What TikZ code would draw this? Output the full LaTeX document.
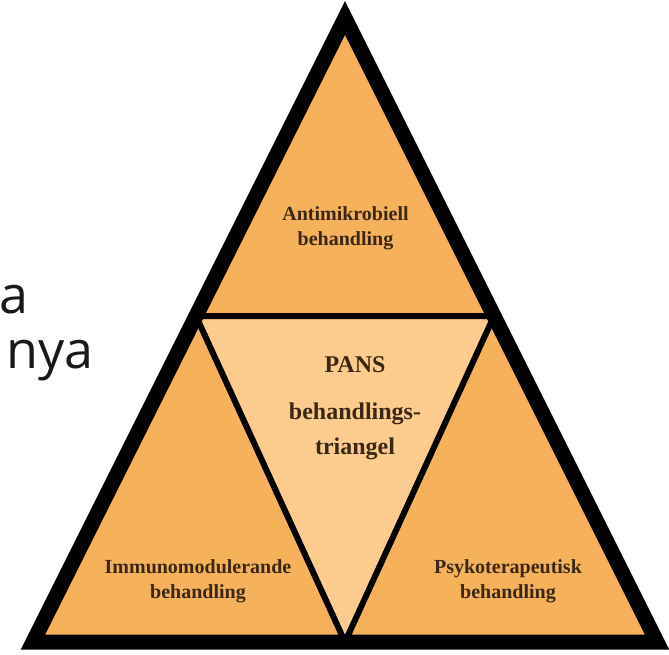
\documentclass[tikz,border=0pt]{standalone}
\usepackage{fontspec}
\setmainfont{Liberation Serif}
\newfontfamily\fragfont{Open Sans}
\usepackage{tikz}
\definecolor{pansorange}{RGB}{246,178,90}
\definecolor{panslight}{RGB}{252,203,142}
\definecolor{pansink}{RGB}{58,40,20}

\begin{document}
\begin{tikzpicture}[x=1pt, y=-1pt,
		field text/.style={font=\bfseries\fontsize{20}{25}\selectfont, text=pansink, align=center, inner sep=0pt},
		core text/.style={font=\bfseries\fontsize{24}{35}\selectfont, text=pansink, align=center, inner sep=0pt},
		frag text/.style={font=\fragfont\fontsize{52}{60}\selectfont, text=black!90, inner sep=0pt, anchor=base west}]
		\useasboundingbox (0,0) rectangle (669,654);
		% corners of the big triangle and of the inner one
		\coordinate (apex) at (345,18);
		\coordinate (baseL) at (33,642);
		\coordinate (baseR) at (657,642);
		\coordinate (midL) at (196,316);
		\coordinate (midR) at (494,316);
		\coordinate (midB) at (345,642);
		\fill[pansorange] (apex) -- (baseL) -- (baseR) -- cycle;
		\filldraw[fill=panslight, line width=6pt] (midL) -- (midR) -- (midB) -- cycle;
		\draw[line width=15pt, line join=miter] (apex) -- (baseL) -- (baseR) -- cycle;
		% texts
		\node[field text] (anti) at (345.5,228) {Antimikrobiell\\behandling};
		\node[field text] (immuno) at (198,581) {Immunomodulerande\\behandling};
		\node[field text] (psyko) at (508,581) {Psykoterapeutisk\\behandling};
		\node[core text] (pans) at (355,408) {PANS\\[12pt]behandlings-\\triangel};
		\node[frag text] (fragA) at (-1,313) {a};
		\node[frag text] (fragB) at (6,368) {nya};
\end{tikzpicture}
\end{document}
